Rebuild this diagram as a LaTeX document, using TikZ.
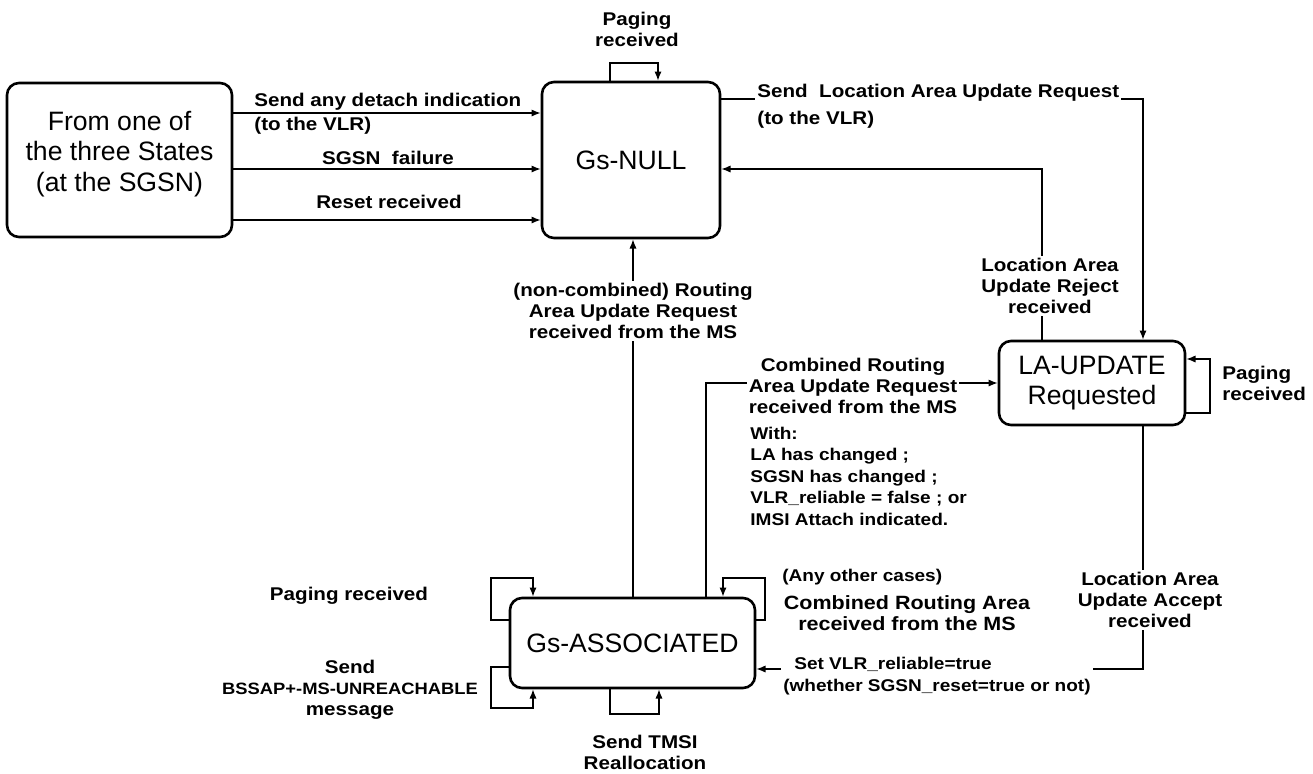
\documentclass[tikz,border=0pt]{standalone}
\usepackage{fontspec}
\setmainfont{Liberation Sans}
\newfontfamily\lblfont[FakeStretch=1.12]{Liberation Sans}
\usetikzlibrary{arrows.meta}

\begin{document}
\begin{tikzpicture}[x=0.5pt, y=-0.5pt,
  stbox/.style={draw, rounded corners=6pt, line width=1.3pt, align=center, inner sep=0pt, font=\fontsize{13.3}{15.2}\selectfont},
  arr/.style={-{Latex[length=4.6pt,width=3.6pt]}, line width=0.65pt},
  lbl/.style={align=center, inner sep=1pt, font=\lblfont\bfseries\fontsize{9.2}{10.5}\selectfont},
  sml/.style={align=left, inner sep=1pt, font=\lblfont\bfseries\fontsize{8.5}{10.75}\selectfont},
  cover/.style={fill=white}]
\useasboundingbox (0,0) rectangle (1313,773);

% states
\node[stbox, minimum width=112.5pt, minimum height=77pt] (from) at (119.5,160) {};
\node[align=center, inner sep=0pt, font=\fontsize{13.3}{15.2}\selectfont] (fromtxt) at (119.5,154) {From one of\\the three States\\(at the SGSN)};
\node[stbox, minimum width=89pt, minimum height=78pt] (null) at (631,160) {Gs-NULL};
\node[stbox, minimum width=93pt, minimum height=42pt] (laup) at (1092,383) {LA-UPDATE\\Requested};
\node[stbox, minimum width=122.5pt, minimum height=45pt] (assoc) at (632.5,643) {Gs-ASSOCIATED};

% from any state to Gs-NULL
\draw[arr] (from.east |- 0,113) -- (null.west |- 0,113);
\draw[arr] (from.east |- 0,169) -- (null.west |- 0,169);
\draw[arr] (from.east |- 0,220) -- (null.west |- 0,220);
\node[lbl, anchor=west] (detach) at (252,102) {Send any detach indication};
\node[lbl, anchor=west] (detachvlr) at (252,126) {(to the VLR)};
\node[lbl] (sgsnfail) at (388,158) {SGSN\ \ failure};
\node[lbl] (reset) at (389,202) {Reset received};

% Gs-NULL
\draw[arr] (null.north -| 610,0) |- (658,63) -- (null.north -| 658,0);
\node[lbl] (nullpage) at (637,29.5) {Paging\\received};
\draw[arr] (null.east |- 0,99) -| (laup.north -| 1143,0);
\node[lbl, cover, anchor=west] (sendlau) at (755,93) {Send\ \ Location Area Update Request};
\node[lbl, anchor=west] (sendvlr) at (755,120) {(to the VLR)};

% LA-UPDATE Requested
\draw[arr] (laup.north -| 1042,0) |- (null.east |- 0,169);
\node[lbl, cover] (reject) at (1050,286) {Location Area\\Update Reject\\received};
\draw[arr] (laup.east |- 0,413) -| (1210,359) -- (laup.east |- 0,359);
\node[lbl, anchor=west, align=left] (laupage) at (1220,383) {Paging\\received};
\draw[arr] (laup.south -| 1143,0) |- (assoc.east |- 0,669);
\node[lbl, cover] (accept) at (1150,600) {Location Area\\Update Accept\\received};
\node[sml, cover] (setvlr) at (937,676) {\hspace*{5.5pt}Set VLR\_reliable=true\\(whether SGSN\_reset=true or not)};

% Gs-ASSOCIATED
\draw[arr] (assoc.north -| 633,0) -- (null.south -| 633,0);
\node[lbl, cover] (noncomb) at (633,311) {(non-combined) Routing\\Area Update Request\\received from the MS};
\draw[arr] (assoc.north -| 706,0) |- (laup.west);
\node[lbl, cover] (comb) at (853,386) {Combined Routing\\Area Update Request\\received from the MS};
\node[sml, anchor=west] (with) at (748,476) {With:\\LA has changed ;\\SGSN has changed ;\\VLR\_reliable = false ; or\\IMSI Attach indicated.};
\draw[arr] (assoc.east |- 0,620) -| (765,578) -| (assoc.north -| 723,0);
\node[sml, anchor=west] (other) at (780,577) {(Any other cases)};
\node[lbl, font=\lblfont\bfseries\fontsize{9.6}{10.5}\selectfont] (combother) at (907,613.5) {Combined Routing Area\\received from the MS};
\draw[arr] (assoc.west |- 0,620) -| (491,578) -| (assoc.north -| 533,0);
\node[lbl] (assocpage) at (349,596) {Paging received};
\draw[arr] (assoc.west |- 0,667) -| (491,708) -| (assoc.south -| 533,0);
\node[lbl] (unreach) at (350,690) {Send\\{\fontsize{8.2}{12}\selectfont BSSAP+-MS-UNREACHABLE}\\message};
\draw[arr] (assoc.south -| 610,0) |- (659,714) -- (assoc.south -| 659,0);
\node[lbl] (tmsi) at (645,752) {Send TMSI\\Reallocation};
\end{tikzpicture}
\end{document}
